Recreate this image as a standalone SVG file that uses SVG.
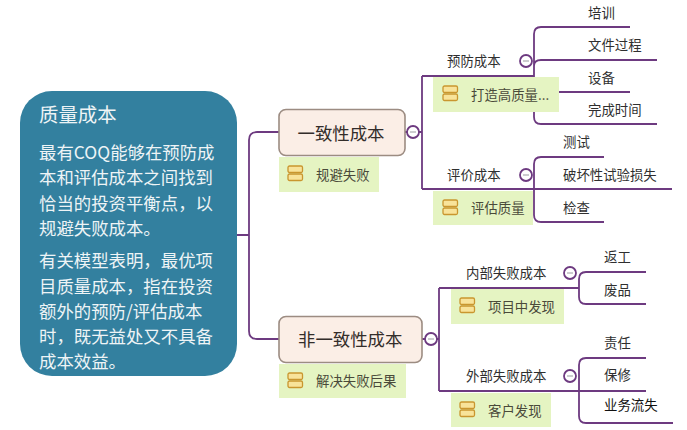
<svg xmlns="http://www.w3.org/2000/svg" width="687" height="430" viewBox="0 0 687 430">
<style>
text{font-family:"Noto Sans CJK SC","Noto Sans",sans-serif;dominant-baseline:central;transform:translateY(-1.8px)}
.c{fill:none;stroke:#6d3a80;stroke-width:1.8}
.t{fill:#eef4f6;font-size:17.4px}
.h{fill:#eef4f6;font-size:19.4px}
.m{fill:#332d2a;font-size:17.4px}
.box{fill:#fbeee6;stroke:#9c8c82;stroke-width:1.6}
.n{fill:#e5f4c2}
.l{fill:#2f2f2f;font-size:13.4px}
.nt{fill:#4a4a3a;font-size:13.4px}
.ci{fill:#fff;stroke:#6d3a80;stroke-width:1.8}
.mi{stroke:#9a9aa0;stroke-width:1}
.ic{fill:#f8e39a;stroke:#c9962f;stroke-width:1.3}
</style>
<defs>
<g id="icon">
<rect class="ic" x="0" y="0" width="14.5" height="6.5" rx="1.5"/>
<rect class="ic" x="0" y="8" width="14.5" height="6.5" rx="1.5"/>
</g>
<g id="minus">
<circle class="ci" r="6"/>
<line class="mi" x1="-3" x2="3"/>
</g>
</defs>
<rect width="687" height="430" fill="#fff"/>
<g id="connectors">
<path class="c" d="M237 235H249M279 132H257Q249 132 249 140V331Q249 339 257 339H279"/>
<path class="c" d="M405 132H422M422 76V189M422 76H534M422 189H672"/>
<path class="c" d="M630 27H541Q534 27 534 34V117Q534 124 541 124H657M657 60H541Q534 60 534 66M534 92H630"/>
<path class="c" d="M604 157H541Q534 157 534 164V215Q534 222 541 222H604"/>
<path class="c" d="M422 339H439M439 288V391M439 288H579M439 391H646"/>
<path class="c" d="M646 272H586Q579 272 579 279V297Q579 304 586 304H646"/>
<path class="c" d="M646 358H586Q579 358 579 365V416Q579 423 586 423H673"/>
</g>
<g id="root">
<rect x="20" y="91" width="217" height="285" rx="32" fill="#33809f"/>
<text class="h" x="39" y="115">质量成本</text>
<text class="t" x="39" y="153">最有COQ能够在预防成</text>
<text class="t" x="39" y="178">本和评估成本之间找到</text>
<text class="t" x="39" y="204">恰当的投资平衡点，以</text>
<text class="t" x="39" y="229">规避失败成本。</text>
<text class="t" x="39" y="261">有关模型表明，最优项</text>
<text class="t" x="39" y="287">目质量成本，指在投资</text>
<text class="t" x="39" y="312">额外的预防/评估成本</text>
<text class="t" x="39" y="337">时，既无益处又不具备</text>
<text class="t" x="39" y="362">成本效益。</text>
</g>
<g id="conformance">
<rect class="n" x="279" y="157" width="100" height="35"/>
<rect class="box" x="279" y="109.500" width="126" height="46" rx="7"/>
<text class="m" x="297.500" y="134">一致性成本</text>
<use href="#icon" x="288" y="166"/>
<text class="nt" x="316" y="176">规避失败</text>
<use href="#minus" x="413" y="132"/>
</g>
<g id="prevention">
<text class="l" x="447" y="62">预防成本</text>
<use href="#minus" x="526" y="61"/>
<rect class="n" x="433" y="77" width="126" height="35"/>
<use href="#icon" x="443" y="86"/>
<text class="nt" x="471" y="96">打造高质量...</text>
</g>
<g id="appraisal">
<text class="l" x="447" y="176">评价成本</text>
<use href="#minus" x="526" y="175"/>
<rect class="n" x="433" y="191" width="100" height="34"/>
<use href="#icon" x="443" y="200"/>
<text class="nt" x="471" y="209">评估质量</text>
</g>
<g id="leaves-prevention">
<text class="l" x="588" y="14">培训</text>
<text class="l" x="588" y="46">文件过程</text>
<text class="l" x="588" y="79">设备</text>
<text class="l" x="588" y="111">完成时间</text>
</g>
<g id="leaves-appraisal">
<text class="l" x="563" y="143">测试</text>
<text class="l" x="563" y="176">破坏性试验损失</text>
<text class="l" x="563" y="209">检查</text>
</g>
<g id="nonconformance">
<rect class="n" x="279" y="364" width="127" height="34"/>
<rect class="box" x="279" y="316.500" width="143" height="46" rx="7"/>
<text class="m" x="298" y="340">非一致性成本</text>
<use href="#icon" x="288" y="373"/>
<text class="nt" x="316" y="382">解决失败后果</text>
<use href="#minus" x="431" y="339"/>
</g>
<g id="internal">
<text class="l" x="466" y="274">内部失败成本</text>
<use href="#minus" x="570" y="273"/>
<rect class="n" x="451" y="289" width="113" height="35"/>
<use href="#icon" x="460" y="298"/>
<text class="nt" x="488" y="308">项目中发现</text>
</g>
<g id="external">
<text class="l" x="466" y="377">外部失败成本</text>
<use href="#minus" x="570" y="376"/>
<rect class="n" x="451" y="393" width="100" height="34"/>
<use href="#icon" x="460" y="402"/>
<text class="nt" x="488" y="412">客户发现</text>
</g>
<g id="leaves-failure">
<text class="l" x="604" y="258">返工</text>
<text class="l" x="604" y="291">废品</text>
<text class="l" x="604" y="344">责任</text>
<text class="l" x="604" y="376">保修</text>
<text class="l" x="604" y="406" style="fill:#111">业务流失</text>
</g>
</svg>
